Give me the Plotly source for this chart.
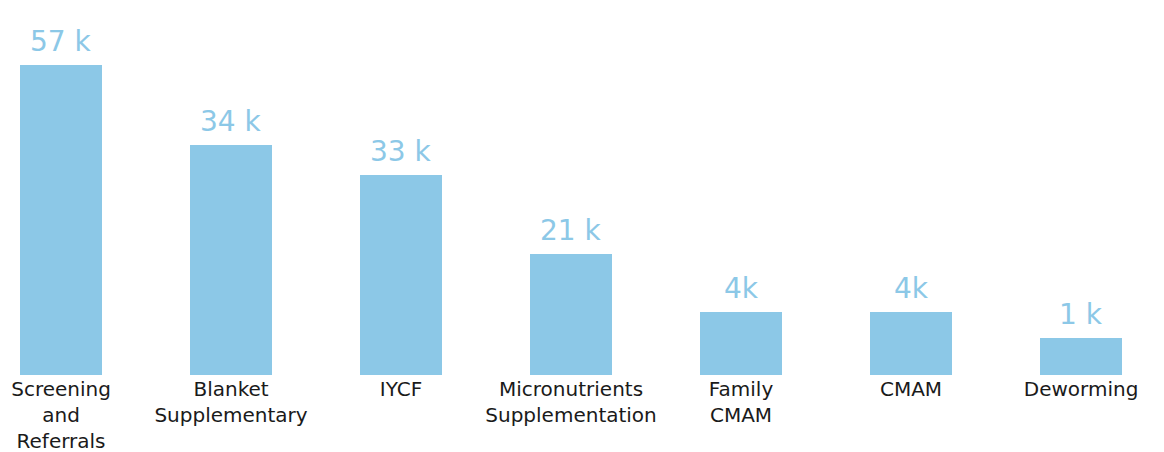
import plotly.graph_objects as go

categories = ["Screening<br>and<br>Referrals", "Blanket<br>Supplementary", "IYCF",
              "Micronutrients<br>Supplementation", "Family<br>CMAM", "CMAM", "Deworming"]
value_labels = ["57 k", "34 k", "33 k", "21 k", "4k", "4k", "1 k"]
# visual bar heights as drawn in the infographic (not to scale with the labels)
bar_heights = [310, 230, 200, 121, 63, 63, 37]

blue = "#8CC8E7"
xs = list(range(len(categories)))

fig = go.Figure(go.Bar(
    x=xs, y=bar_heights, width=0.48,
    marker=dict(color=blue, line=dict(width=0)),
    cliponaxis=False,
    hoverinfo="skip",
))

for xi, h, lab in zip(xs, bar_heights, value_labels):
    fig.add_annotation(x=xi, y=h, text=lab, showarrow=False,
                       xanchor="center", yanchor="bottom", yshift=5,
                       font=dict(family="DejaVu Sans", size=28, color=blue))

fig.update_layout(
    width=1156, height=444,
    margin=dict(l=0, r=0, t=0, b=77, autoexpand=False),
    paper_bgcolor="white", plot_bgcolor="white",
    showlegend=False,
    font=dict(family="DejaVu Sans", color="#1a1a1a"),
    bargap=0,
)
fig.update_xaxes(range=[-0.312, 6.488], tickvals=xs, ticktext=categories,
                 showgrid=False, zeroline=False, showline=False, ticks="",
                 automargin=False,
                 tickfont=dict(size=20, color="#1a1a1a"), fixedrange=True)
fig.update_yaxes(range=[0, 367], visible=False, showgrid=False, fixedrange=True)

fig.write_html("out.html")
